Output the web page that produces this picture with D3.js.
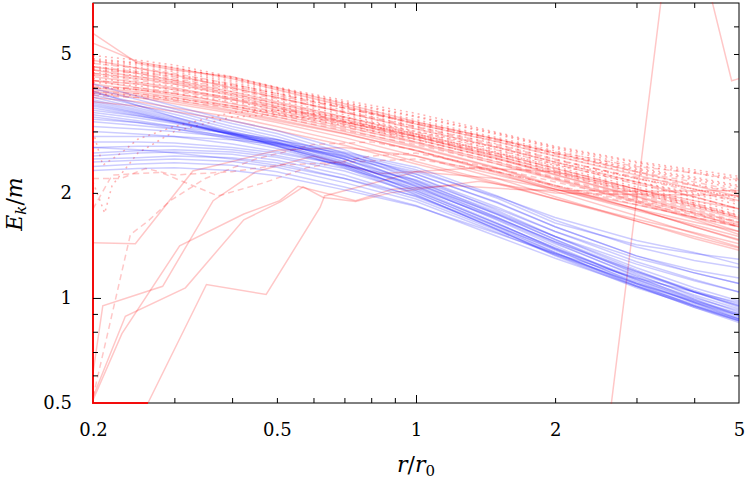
<!DOCTYPE html>
<html>
<head>
<meta charset="utf-8">
<script src="https://cdn.jsdelivr.net/npm/d3@7"></script>
<style>
  body { margin: 0; background: #fff; }
  svg text { font-family: "DejaVu Serif", "Liberation Serif", serif; }
</style>
</head>
<body>
<svg id="chart" width="747" height="481"></svg>
<script>
// common sampling radii r/r0 for the bundle curves
var radii = [0.2, 0.25, 0.3, 0.4, 0.5, 0.7, 1, 1.5, 2, 3, 4, 5];

// blue runs, Ek/m at each radius
var blueRuns = [
  [4.1, 3.78, 3.55, 3.22, 3.02, 2.66, 2.22, 1.78, 1.5, 1.2, 1.04, 0.94],
  [3.98, 3.7, 3.48, 3.16, 2.96, 2.6, 2.17, 1.74, 1.47, 1.17, 1.01, 0.91],
  [3.88, 3.62, 3.42, 3.1, 2.9, 2.55, 2.13, 1.7, 1.44, 1.15, 0.99, 0.89],
  [3.82, 3.56, 3.36, 3.05, 2.85, 2.5, 2.09, 1.67, 1.41, 1.12, 0.97, 0.87],
  [3.76, 3.5, 3.3, 3.0, 2.8, 2.46, 2.05, 1.64, 1.38, 1.1, 0.95, 0.86],
  [3.7, 3.46, 3.27, 2.97, 2.77, 2.42, 2.01, 1.6, 1.35, 1.08, 0.94, 0.85],
  [3.66, 3.43, 3.24, 2.94, 2.74, 2.39, 1.98, 1.57, 1.32, 1.07, 0.95, 0.87],
  [3.62, 3.4, 3.22, 2.93, 2.73, 2.41, 2.03, 1.63, 1.39, 1.14, 1.0, 0.92],
  [3.58, 3.38, 3.2, 2.93, 2.75, 2.45, 2.08, 1.68, 1.43, 1.16, 1.02, 0.93],
  [3.55, 3.36, 3.2, 2.96, 2.79, 2.5, 2.14, 1.73, 1.47, 1.19, 1.04, 0.95],
  [3.5, 3.33, 3.18, 2.94, 2.78, 2.5, 2.16, 1.76, 1.5, 1.22, 1.07, 0.98],
  [3.45, 3.32, 3.2, 2.98, 2.84, 2.58, 2.27, 1.87, 1.6, 1.32, 1.18, 1.1],
  [3.4, 3.28, 3.16, 2.95, 2.81, 2.54, 2.22, 1.82, 1.55, 1.27, 1.13, 1.04],
  [3.35, 3.22, 3.1, 2.88, 2.72, 2.43, 2.1, 1.7, 1.45, 1.18, 1.04, 0.95],
  [3.3, 3.18, 3.06, 2.85, 2.68, 2.38, 2.03, 1.63, 1.39, 1.13, 0.98, 0.89],
  [3.25, 3.18, 3.1, 2.96, 2.84, 2.62, 2.37, 1.96, 1.67, 1.4, 1.28, 1.22],
  [3.2, 3.12, 3.05, 2.9, 2.77, 2.53, 2.26, 1.88, 1.6, 1.32, 1.2, 1.14],
  [3.1, 3.05, 3.0, 2.88, 2.78, 2.6, 2.33, 1.93, 1.64, 1.42, 1.34, 1.29],
  [3.0, 2.95, 2.9, 2.76, 2.63, 2.4, 2.12, 1.74, 1.5, 1.25, 1.12, 1.04],
  [2.9, 2.9, 2.9, 2.84, 2.75, 2.56, 2.3, 1.95, 1.7, 1.46, 1.35, 1.25],
  [2.8, 2.8, 2.78, 2.7, 2.6, 2.4, 2.18, 1.8, 1.55, 1.3, 1.18, 1.1],
  [2.7, 2.72, 2.72, 2.66, 2.56, 2.35, 2.06, 1.69, 1.45, 1.19, 1.05, 0.96],
  [2.6, 2.64, 2.66, 2.62, 2.53, 2.31, 2.0, 1.61, 1.37, 1.11, 0.97, 0.88],
  [2.55, 2.6, 2.62, 2.58, 2.48, 2.25, 1.95, 1.58, 1.35, 1.09, 0.95, 0.86],
  [2.5, 2.52, 2.55, 2.52, 2.44, 2.2, 1.92, 1.56, 1.34, 1.1, 0.97, 0.89],
  [2.45, 2.48, 2.5, 2.46, 2.37, 2.14, 1.89, 1.54, 1.33, 1.1, 0.98, 0.9],
  [2.38, 2.42, 2.44, 2.4, 2.3, 2.08, 1.84, 1.5, 1.3, 1.08, 0.96, 0.87],
  [2.32, 2.35, 2.36, 2.32, 2.24, 2.04, 1.83, 1.53, 1.34, 1.14, 1.04, 0.97],
  [2.7, 2.66, 2.6, 2.5, 2.4, 2.2, 1.96, 1.6, 1.38, 1.13, 0.99, 0.9],
  [3.92, 3.56, 3.3, 2.97, 2.72, 2.36, 1.97, 1.57, 1.33, 1.08, 0.94, 0.86]
];

// red runs, solid
var redSolid = [
  [5.73, 4.7, 4.5, 4.3, 4.0, 3.6, 3.2, 2.85, 2.6, 2.3, 2.1, 1.95],
  [5.37, 4.75, 4.55, 4.25, 3.95, 3.55, 3.15, 2.8, 2.55, 2.25, 2.05, 1.9],
  [4.6, 4.4, 4.2, 3.9, 3.65, 3.3, 2.95, 2.6, 2.35, 2.05, 1.85, 1.7],
  [4.4, 4.25, 4.1, 3.8, 3.55, 3.2, 2.85, 2.5, 2.25, 1.95, 1.75, 1.6],
  [4.2, 4.1, 3.95, 3.7, 3.45, 3.15, 2.8, 2.45, 2.2, 1.9, 1.7, 1.55],
  [4.1, 3.95, 3.8, 3.55, 3.35, 3.05, 2.72, 2.36, 2.1, 1.8, 1.6, 1.46],
  [3.95, 3.85, 3.7, 3.45, 3.25, 2.96, 2.64, 2.28, 2.02, 1.72, 1.53, 1.4],
  [3.85, 3.75, 3.6, 3.38, 3.18, 2.88, 2.55, 2.2, 1.95, 1.66, 1.48, 1.37],
  [3.75, 3.65, 3.5, 3.3, 3.1, 2.8, 2.46, 2.14, 1.92, 1.66, 1.5, 1.39],
  [3.65, 3.55, 3.42, 3.22, 3.02, 2.74, 2.42, 2.12, 1.92, 1.68, 1.54, 1.43],
  [4.3, 4.15, 4.0, 3.72, 3.5, 3.18, 2.9, 2.55, 2.3, 2.0, 1.82, 1.68],
  [4.5, 4.3, 4.15, 3.85, 3.6, 3.25, 2.9, 2.52, 2.26, 1.96, 1.78, 1.64],
  [4.0, 3.9, 3.75, 3.5, 3.3, 3.0, 2.7, 2.35, 2.08, 1.8, 1.6, 1.47],
  [4.8, 4.55, 4.35, 4.0, 3.75, 3.4, 3.05, 2.7, 2.45, 2.15, 1.95, 1.8],
  [4.2, 4.0, 3.85, 3.6, 3.4, 3.1, 2.78, 2.42, 2.18, 1.88, 1.68, 1.52],
  [3.9, 3.8, 3.65, 3.42, 3.22, 2.95, 2.65, 2.3, 2.05, 1.78, 1.62, 1.5]
];

// red runs, dashed
var redDashed = [
  [4.7, 4.55, 4.4, 4.1, 3.85, 3.5, 3.15, 2.82, 2.58, 2.3, 2.15, 2.02],
  [4.5, 4.4, 4.25, 4.0, 3.75, 3.42, 3.1, 2.75, 2.5, 2.2, 2.02, 1.88],
  [4.35, 4.2, 4.1, 3.85, 3.62, 3.3, 2.98, 2.65, 2.42, 2.12, 1.95, 1.8],
  [4.2, 4.1, 3.98, 3.75, 3.52, 3.22, 2.92, 2.58, 2.36, 2.05, 1.87, 1.72],
  [4.05, 3.95, 3.85, 3.62, 3.42, 3.14, 2.85, 2.5, 2.28, 1.98, 1.8, 1.65],
  [3.9, 3.85, 3.75, 3.55, 3.35, 3.08, 2.8, 2.46, 2.22, 1.94, 1.76, 1.62],
  [4.6, 4.45, 4.3, 4.05, 3.8, 3.5, 3.18, 2.85, 2.62, 2.38, 2.28, 2.18],
  [4.4, 4.3, 4.2, 3.95, 3.72, 3.4, 3.08, 2.72, 2.48, 2.22, 2.1, 2.0],
  [4.0, 4.0, 3.9, 3.7, 3.5, 3.2, 2.9, 2.55, 2.32, 2.02, 1.84, 1.7],
  [3.8, 3.75, 3.68, 3.5, 3.3, 3.02, 2.75, 2.42, 2.2, 1.92, 1.74, 1.6]
];

// red runs, dotted
var redDotted = [
  [4.95, 4.8, 4.65, 4.3, 4.02, 3.68, 3.38, 2.98, 2.72, 2.46, 2.33, 2.23],
  [4.85, 4.72, 4.58, 4.25, 3.98, 3.62, 3.3, 2.94, 2.68, 2.4, 2.28, 2.16],
  [4.75, 4.65, 4.5, 4.2, 3.95, 3.58, 3.24, 2.88, 2.64, 2.36, 2.22, 2.1],
  [4.7, 4.58, 4.45, 4.15, 3.9, 3.55, 3.2, 2.85, 2.6, 2.32, 2.18, 2.05],
  [4.6, 4.5, 4.38, 4.1, 3.85, 3.5, 3.15, 2.8, 2.55, 2.27, 2.12, 2.0],
  [4.5, 4.42, 4.3, 4.05, 3.8, 3.45, 3.1, 2.76, 2.5, 2.2, 2.05, 1.93],
  [4.42, 4.35, 4.22, 3.98, 3.75, 3.4, 3.05, 2.7, 2.45, 2.15, 1.98, 1.85],
  [4.35, 4.25, 4.15, 3.9, 3.68, 3.35, 3.0, 2.66, 2.42, 2.12, 1.94, 1.8],
  [4.25, 4.15, 4.05, 3.82, 3.6, 3.28, 2.95, 2.62, 2.38, 2.08, 1.9, 1.76],
  [4.15, 4.05, 3.95, 3.75, 3.55, 3.24, 2.92, 2.58, 2.35, 2.05, 1.87, 1.73],
  [4.8, 4.7, 4.55, 4.28, 4.0, 3.64, 3.32, 2.96, 2.7, 2.44, 2.3, 2.2],
  [4.55, 4.45, 4.35, 4.08, 3.86, 3.52, 3.18, 2.84, 2.6, 2.34, 2.2, 2.08],
  [4.0, 3.95, 3.85, 3.66, 3.46, 3.18, 2.88, 2.55, 2.32, 2.02, 1.85, 1.72],
  [3.85, 3.8, 3.72, 3.55, 3.38, 3.12, 2.84, 2.5, 2.28, 2.0, 1.83, 1.7]
];

// red runs that leave the bundle, as [r/r0, Ek/m] pairs
var redOddSolid = [
  [[0.2, 1.44], [0.247, 1.43], [0.329, 2.31], [0.38, 2.42], [0.5, 2.65], [0.7, 2.7], [1, 2.55], [1.5, 2.25], [2, 2.05], [3, 1.8], [4, 1.65], [5, 1.55]],
  [[0.2, 0.61], [0.21, 0.95], [0.283, 1.08], [0.364, 1.9], [0.45, 2.3], [0.6, 2.55], [0.83, 2.27], [1.37, 2.36], [2, 2.3], [3, 2.05], [4, 1.9], [5, 1.8]],
  [[0.2, 0.51], [0.231, 0.79], [0.308, 1.41], [0.424, 1.74], [0.507, 1.9], [0.556, 2.09], [0.74, 1.9], [0.89, 2.05], [1.2, 2.1], [1.6, 2.05], [2, 2.03], [3, 2.02], [5, 2.03]],
  [[0.2, 0.52], [0.235, 0.886], [0.317, 1.069], [0.424, 1.675], [0.511, 1.89], [0.57, 2.08], [0.63, 1.94], [0.74, 1.89], [0.88, 2.0], [1.37, 2.16], [2, 2.0], [3, 1.98], [5, 1.97]],
  [[0.263, 0.5], [0.352, 1.093], [0.474, 1.023], [0.62, 1.816], [0.634, 1.96], [1, 2.3], [1.5, 2.2], [2, 2.05], [3, 1.85], [4, 1.7], [5, 1.6]],
  [[2.3, 0.3], [2.5, 0.27], [3.5, 10], [4.1, 10], [4.82, 4.19], [5, 4.25]]
];
var redOddDashed = [
  [[0.2, 0.52], [0.22, 0.9], [0.241, 1.52], [0.263, 1.66], [0.294, 1.9], [0.35, 2.2], [0.45, 2.5], [0.6, 2.75], [0.8, 2.8], [1, 2.65], [1.5, 2.3], [2, 2.1], [3, 1.85], [5, 1.6]],
  [[0.2, 1.8], [0.22, 2.25], [0.28, 2.29], [0.373, 1.96], [0.47, 2.14], [0.58, 2.36], [0.8, 2.55], [1, 2.6], [1.5, 2.35], [2, 2.15], [3, 1.9], [5, 1.65]],
  [[0.2, 2.2], [0.23, 2.2], [0.26, 2.35], [0.3, 2.25], [0.4, 2.3], [0.5, 2.4], [0.7, 2.45], [1, 2.5], [1.5, 2.3], [2, 2.1], [3, 1.88], [5, 1.62]]
];
var redOddDotted = [
  [[0.2, 2.15], [0.212, 1.75], [0.22, 2.1], [0.25, 2.6], [0.3, 3.0], [0.4, 3.3], [0.5, 3.35], [0.7, 3.2], [1, 2.95], [1.5, 2.6], [2, 2.4], [3, 2.15], [4, 2.0], [5, 1.9]],
  [[0.2, 3.0], [0.21, 2.4], [0.23, 2.6], [0.25, 2.85], [0.3, 3.1], [0.4, 3.4], [0.5, 3.45], [0.7, 3.3], [1, 3.0], [1.5, 2.7], [2, 2.45], [3, 2.2], [4, 2.05], [5, 1.95]]
];
// red run pinned to the lower left corner, running along both edges
var redEdge = [[0.263, 0.5], [0.2, 0.5], [0.2, 7]];

var xTickLabels = [0.2, 0.5, 1, 2, 5];
var yTickLabels = [0.5, 1, 2, 5];
var xMinor = [0.3, 0.4, 0.5, 0.6, 0.7, 0.8, 0.9, 2, 3, 4];
var yMinor = [0.6, 0.7, 0.8, 0.9, 2, 3, 4, 5, 6];

var svg = d3.select("#chart");
var L = 93, R = 739, T = 3, B = 403;

var x = d3.scaleLog().domain([0.2, 5]).range([L, R]);
var y = d3.scaleLog().domain([0.5, 7]).range([B, T]);

svg.append("defs").append("clipPath").attr("id", "plotclip")
  .append("rect").attr("x", L - 1).attr("y", T - 1).attr("width", R - L + 2).attr("height", B - T + 2);

// frame first, the curves are drawn over it
svg.append("rect").attr("x", L).attr("y", T).attr("width", R - L).attr("height", B - T)
  .attr("fill", "none").attr("stroke", "#000").attr("stroke-width", 1);

var line = d3.line().x(function (d) { return x(d[0]); }).y(function (d) { return y(d[1]); });
function onGrid(vals) { return radii.map(function (r, i) { return [r, vals[i]]; }); }

var plot = svg.append("g").attr("clip-path", "url(#plotclip)").attr("fill", "none");

function draw(runs, colour, alpha, dash, width) {
  plot.append("g").selectAll("path").data(runs).enter().append("path")
    .attr("d", line)
    .attr("stroke", colour)
    .attr("stroke-opacity", alpha)
    .attr("stroke-width", width || 1.5)
    .attr("stroke-dasharray", dash);
}

draw(redSolid.map(onGrid), "#ff0000", 0.22, null);
draw(redDashed.map(onGrid), "#ff0000", 0.22, "6,4");
draw(redDotted.map(onGrid), "#ff0000", 0.3, "2,4");
draw(redOddSolid, "#ff0000", 0.22, null);
draw(redOddDashed, "#ff0000", 0.22, "6,4");
draw(redOddDotted, "#ff0000", 0.3, "2,4");
draw([redEdge], "#ff0000", 0.9, null, 2);
draw(blueRuns.map(onGrid), "#0000ff", 0.2, null);

// ticks point inward on all four sides
function tickAxis(axis, transform) {
  var g = svg.append("g").attr("transform", transform).call(axis);
  g.select(".domain").remove();
  g.selectAll("line").attr("stroke", "#000");
  return g;
}
tickAxis(d3.axisBottom(x).tickValues(xMinor).tickSize(-5).tickFormat(""), "translate(0," + B + ")");
tickAxis(d3.axisTop(x).tickValues(xMinor).tickSize(-5).tickFormat(""), "translate(0," + T + ")");
tickAxis(d3.axisBottom(x).tickValues([1]).tickSize(-8).tickFormat(""), "translate(0," + B + ")");
tickAxis(d3.axisTop(x).tickValues([1]).tickSize(-8).tickFormat(""), "translate(0," + T + ")");
tickAxis(d3.axisLeft(y).tickValues(yMinor).tickSize(-5).tickFormat(""), "translate(" + L + ",0)");
tickAxis(d3.axisRight(y).tickValues(yMinor).tickSize(-5).tickFormat(""), "translate(" + R + ",0)");
tickAxis(d3.axisLeft(y).tickValues([1]).tickSize(-8).tickFormat(""), "translate(" + L + ",0)");
tickAxis(d3.axisRight(y).tickValues([1]).tickSize(-8).tickFormat(""), "translate(" + R + ",0)");

var fmt = d3.format("~g");
tickAxis(d3.axisBottom(x).tickValues(xTickLabels).tickSize(0).tickPadding(20).tickFormat(fmt), "translate(0," + B + ")")
  .attr("font-family", null);
tickAxis(d3.axisLeft(y).tickValues(yTickLabels).tickSize(0).tickPadding(21).tickFormat(fmt), "translate(" + L + ",0)")
  .attr("font-family", null);
svg.selectAll(".tick text").style("font-size", "18px").attr("fill", "#000");

// axis titles
var yt = svg.append("text").attr("transform", "translate(22,204) rotate(-90)")
  .attr("text-anchor", "middle").style("font-size", "22px");
yt.append("tspan").attr("font-style", "italic").text("E");
yt.append("tspan").attr("font-style", "italic").style("font-size", "15px").attr("dy", 4).text("k");
yt.append("tspan").attr("dy", -4).text("/");
yt.append("tspan").attr("font-style", "italic").text("m");

var xt = svg.append("text").attr("x", 416).attr("y", 472)
  .attr("text-anchor", "middle").style("font-size", "22px");
xt.append("tspan").attr("font-style", "italic").text("r");
xt.append("tspan").text("/");
xt.append("tspan").attr("font-style", "italic").text("r");
xt.append("tspan").style("font-size", "15px").attr("dy", 4).text("0");
</script>
</body>
</html>
